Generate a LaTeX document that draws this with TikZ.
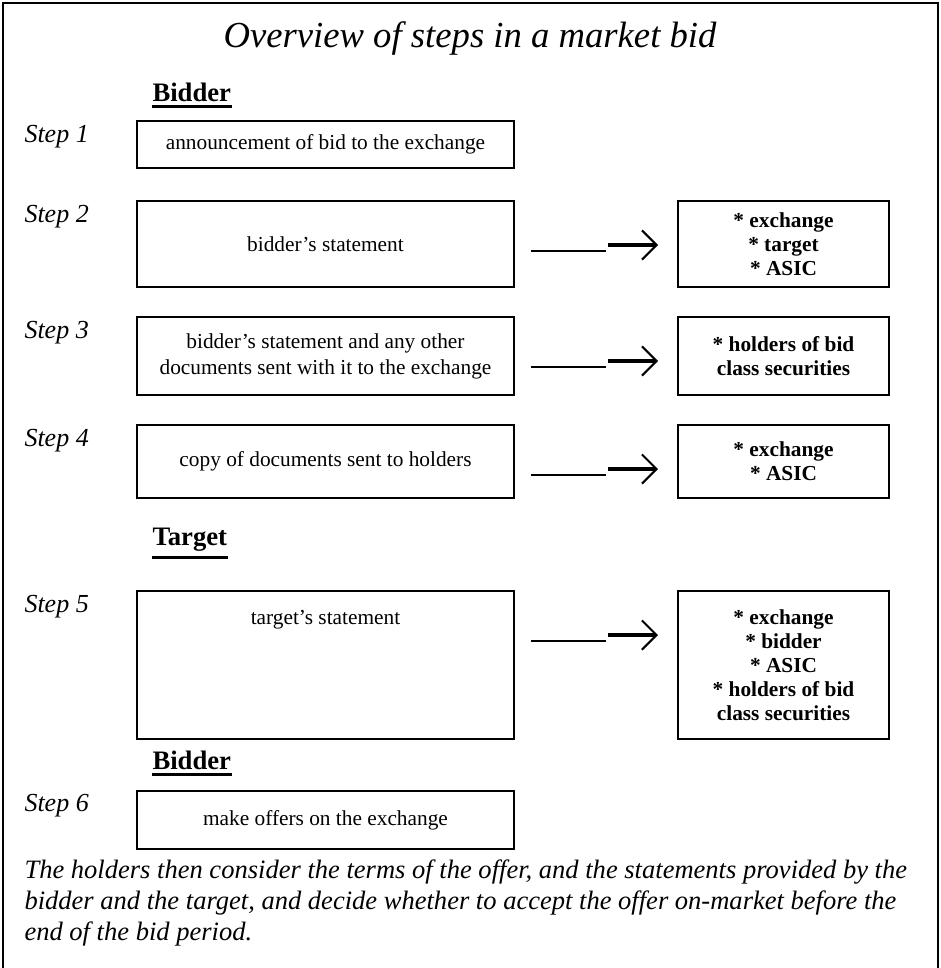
\documentclass[tikz,border=0pt]{standalone}
\usepackage{fontspec}
\setmainfont{Liberation Serif}
\usetikzlibrary{arrows.meta,calc}
\tikzset{every picture/.style={line width=0.75pt}}
\tikzset{
  leftbox/.style={draw, line width=1.5pt, anchor=north west, inner sep=2pt, align=center,
    minimum width=282.75pt, font=\fontsize{16}{19.5}\selectfont},
  rightbox/.style={draw, line width=1.5pt, anchor=north west, inner sep=2pt, align=center,
    minimum width=158.25pt, font=\bfseries\fontsize{16}{18}\selectfont},
  steplabel/.style={anchor=west, inner sep=0pt, font=\itshape\fontsize{19.5}{23}\selectfont},
  heading/.style={anchor=west, inner sep=0pt, font=\bfseries\fontsize{20}{24}\selectfont},
  thinrule/.style={line width=1.1pt},
  thickrule/.style={line width=2.3pt, -{Straight Barb[length=11pt,width=22pt,line width=1.5pt]}}
}
% dashes and arrow between a step box and its receivers
\newcommand{\sendto}[2]{%
  \draw[thinrule] ($(#1.north east)+(16,51)$) -- ($(#1.north east)+(91,51)$);
  \draw[thickrule] ($(#1.north east)+(93,45)$) -- ($(#2.north west)+(-19,45)$);
}

\begin{document}
\begin{tikzpicture}[x=0.75pt,y=0.75pt,yscale=-1,xscale=1]
\useasboundingbox (0,0) rectangle (941,968);

%Frame (open at the bottom)
\draw[line width=1.5pt] (3,968) -- (3,3) -- (938,3) -- (938,968);

% Text Node
\draw (470,38) node (title) [inner sep=0pt, font=\itshape\fontsize{27.5}{33}\selectfont] {Overview of steps in a market bid};

% Text Node
\draw (152,92) node (hbid) [heading] {Bidder};
\draw[line width=2.2pt] ($(hbid.south west)+(0,5)$) -- ($(hbid.south east)+(0,5)$);

% Step 1
\draw (24,137) node (st1) [steplabel] {Step 1};
\draw (136,120) node (b1) [leftbox, minimum height=35.25pt] {announcement of bid to the exchange};

% Step 2
\draw (24,217) node (st2) [steplabel] {Step 2};
\draw (136,200) node (b2) [leftbox, minimum height=64.5pt] {bidder’s statement};
\draw (677,200) node (r2) [rightbox, minimum height=64.5pt] {* exchange\\* target\\* ASIC};
\sendto{b2}{r2}

% Step 3
\draw (24,333) node (st3) [steplabel] {Step 3};
\draw (136,316) node (b3) [leftbox, minimum height=58.5pt] {bidder’s statement and any other\\documents sent with it to the exchange};
\draw (677,316) node (r3) [rightbox, minimum height=58.5pt] {* holders of bid\\class securities};
\sendto{b3}{r3}

% Step 4
\draw (24,441) node (st4) [steplabel] {Step 4};
\draw (136,424) node (b4) [leftbox, minimum height=54.75pt] {copy of documents sent to holders};
\draw (677,424) node (r4) [rightbox, minimum height=54.75pt] {* exchange\\* ASIC};
\sendto{b4}{r4}

% Text Node
\draw (152,540) node (htgt) [heading] {Target};
\draw[line width=2.2pt] ($(htgt.south west)+(0,5)$) -- ($(htgt.south east)+(0,5)$);

% Step 5
\draw (24,607) node (st5) [steplabel] {Step 5};
\draw (136,590) node (b5) [leftbox, minimum height=111pt] {};
\draw ($(b5.north)+(0,30)$) node (t5) [font=\fontsize{16}{19.5}\selectfont] {target’s statement};
\draw (677,590) node (r5) [rightbox, minimum height=111pt] {* exchange\\* bidder\\* ASIC\\* holders of bid\\class securities};
\sendto{b5}{r5}

% Text Node
\draw (152,760) node (hbid2) [heading] {Bidder};
\draw[line width=2.2pt] ($(hbid2.south west)+(0,5)$) -- ($(hbid2.south east)+(0,5)$);

% Step 6
\draw (24,806) node (st6) [steplabel] {Step 6};
\draw (136,790) node (b6) [leftbox, minimum height=43.5pt] {make offers on the exchange};

% Text Node
\draw (24,859) node (note) [anchor=north west, inner sep=0pt, align=left, font=\itshape\fontsize{19.9}{23.3}\selectfont] {The holders then consider the terms of the offer, and the statements provided by the\\bidder and the target, and decide whether to accept the offer on-market before the\\end of the bid period.};

\end{tikzpicture}
\end{document}
